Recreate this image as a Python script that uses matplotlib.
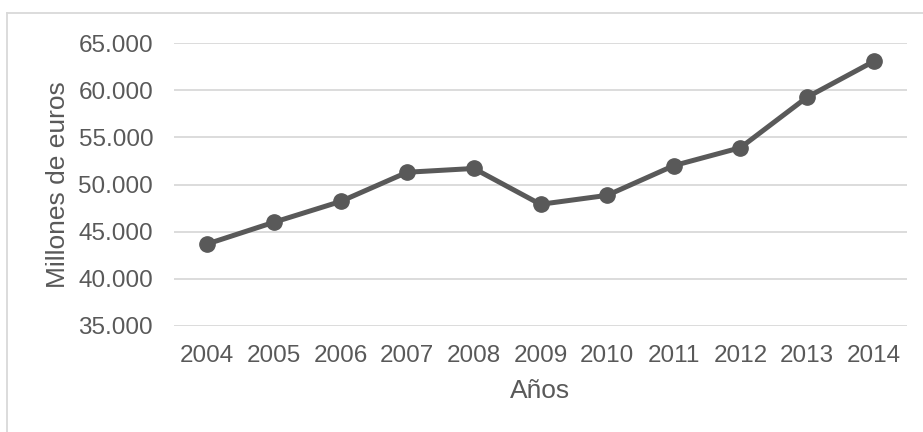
import matplotlib
matplotlib.use("Agg")
import matplotlib.pyplot as plt
from matplotlib.lines import Line2D
from matplotlib.ticker import FuncFormatter

years = ["2004", "2005", "2006", "2007", "2008", "2009", "2010", "2011", "2012", "2013", "2014"]
values = [43700, 46000, 48200, 51300, 51700, 47900, 48850, 52000, 53900, 59250, 63050]
y_ticks = [35000, 40000, 45000, 50000, 55000, 60000, 65000]

plt.rcParams['font.family'] = ['Liberation Sans', 'DejaVu Sans']
text_color = '#595959'
grid_color = '#d9d9d9'

fig = plt.figure(figsize=(9.23, 4.32), dpi=100)
ax = fig.add_axes([174/923, 1-326/432, (907-174)/923, (326-43)/432])

x = list(range(len(years)))
ax.plot(x, values, color='#595959', lw=3.6, marker='o', markersize=11, solid_capstyle='round')

ax.set_xlim(-0.5, len(years)-0.5)
ax.set_ylim(35000, 65000)
ax.set_yticks(y_ticks)
ax.yaxis.set_major_formatter(FuncFormatter(lambda v, p: f"{int(v):,}".replace(",", ".")))
ax.set_xticks(x)
ax.set_xticklabels(years)
ax.grid(axis='y', color=grid_color, lw=1.3)
ax.set_axisbelow(True)
for s in ax.spines.values():
    s.set_visible(False)
ax.tick_params(axis='both', length=0, labelsize=17.5, colors=text_color)
ax.tick_params(axis='y', pad=15)
ax.tick_params(axis='x', pad=14)
ax.set_xlabel("Años", fontsize=19, color=text_color, labelpad=8)
ax.set_ylabel("Millones de euros", fontsize=19, color=text_color, labelpad=6)

fig.add_artist(Line2D([7/923, 7/923], [0, 1-13/432], color=grid_color, lw=1.3, transform=fig.transFigure))
fig.add_artist(Line2D([7/923, 1], [1-13/432, 1-13/432], color=grid_color, lw=1.3, transform=fig.transFigure))

fig.savefig("out.png", dpi=100)
